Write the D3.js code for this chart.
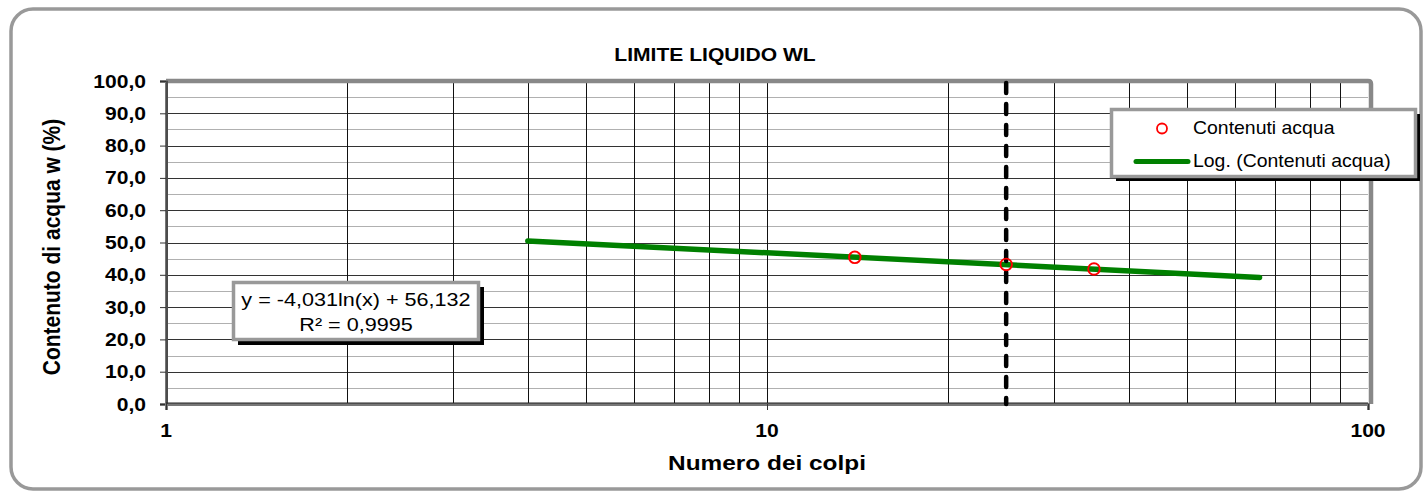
<!DOCTYPE html>
<html><head><meta charset="utf-8">
<script src="https://cdn.jsdelivr.net/npm/d3@7"></script>
<style>
html,body{margin:0;padding:0;background:#fff;}
text{font-family:"Liberation Sans",Arial,sans-serif;}
</style></head>
<body>
<svg id="c" width="1426" height="492"></svg>
<script>
// ---- data ----
const title = "LIMITE LIQUIDO WL";
const xTitle = "Numero dei colpi";
const yTitle = "Contenuto di acqua w (%)";
const colpi = [14, 25, 35];
const contenuti = [45.4, 43.2, 41.8];
const trendX = [4, 66];
const trendY = [50.5, 39.2];
const limitX = [25];
const xTickValues = [1, 10, 100];
const yTickValues = [0, 10, 20, 30, 40, 50, 60, 70, 80, 90, 100];
const eqLines = ["y = -4,031ln(x) + 56,132", "R² = 0,9995"];
const legendLabels = ["Contenuti acqua", "Log. (Contenuti acqua)"];

const svg = d3.select("#c");
const SX = 1.14; // horizontal stretch of text in the reference

function stext(g, x, y, str, opts) {
  const t = g.append("text")
    .attr("transform", `translate(${x},${y}) scale(${opts.k || SX},1)`)
    .attr("text-anchor", opts.anchor || "start")
    .attr("dominant-baseline", "central")
    .attr("font-size", opts.size || 18)
    .attr("font-weight", opts.bold ? "bold" : "normal")
    .attr("fill", "#000")
    .text(str);
  return t;
}

// outer rounded border
svg.append("rect").attr("x", 11).attr("y", 9).attr("width", 1410).attr("height", 480)
  .attr("rx", 22).attr("fill", "#fff").attr("stroke", "#999").attr("stroke-width", 3.5);

const x = d3.scaleLog().domain([1, 100]).range([166, 1368]);
const y = d3.scaleLinear().domain([0, 100]).range([404, 81]);

// grid horizontal minor
const minorY = d3.range(5, 100, 10);
svg.append("g").selectAll("line").data(minorY).join("line")
  .attr("x1", x(1)).attr("x2", x(100))
  .attr("y1", d => Math.round(y(d)) + 0.5).attr("y2", d => Math.round(y(d)) + 0.5)
  .attr("stroke", "#b0b0b0").attr("stroke-width", 1);
// grid horizontal major
svg.append("g").selectAll("line").data(yTickValues.filter(d => d > 0 && d < 100)).join("line")
  .attr("x1", x(1)).attr("x2", x(100))
  .attr("y1", d => Math.round(y(d)) + 0.5).attr("y2", d => Math.round(y(d)) + 0.5)
  .attr("stroke", "#333").attr("stroke-width", 1);
// grid vertical
const vx = x.ticks().filter(d => d > 1 && d < 100);
svg.append("g").selectAll("line").data(vx).join("line")
  .attr("x1", d => Math.round(x(d)) + 0.5).attr("x2", d => Math.round(x(d)) + 0.5)
  .attr("y1", y(100)).attr("y2", y(0))
  .attr("stroke", "#111").attr("stroke-width", 1);

// plot frame (top / right gray)
svg.append("path")
  .attr("d", `M${x(1)},${y(100)} L${x(100)},${y(100)} Q${x(100) + 3},${y(100)} ${x(100) + 3},${y(100) + 3} L${x(100) + 3},${y(0)}`)
  .attr("fill", "none").attr("stroke", "#888").attr("stroke-width", 4.5);

// axes
const gy = svg.append("g").attr("transform", `translate(${x(1)},0)`)
  .call(d3.axisLeft(y).tickValues(yTickValues).tickSize(6).tickFormat(() => ""));
gy.select(".domain").attr("stroke", "#777").attr("stroke-width", 3);
gy.selectAll(".tick line").attr("stroke", "#333");
const gx = svg.append("g").attr("transform", `translate(0,${y(0)})`)
  .call(d3.axisBottom(x).tickValues(xTickValues).tickSize(6).tickFormat(() => ""));
gx.select(".domain").attr("stroke", "#777").attr("stroke-width", 3);
gx.selectAll(".tick line").attr("stroke", "#333");
svg.append("line").attr("x1", x(1) + 1).attr("x2", x(1) + 1).attr("y1", y(100)).attr("y2", y(0))
  .attr("stroke", "#222").attr("stroke-width", 1);
svg.append("line").attr("x1", x(1)).attr("x2", x(100)).attr("y1", y(0) - 1).attr("y2", y(0) - 1)
  .attr("stroke", "#222").attr("stroke-width", 1);

// tick labels
const fmt = d => d.toFixed(1).replace(".", ",");
yTickValues.forEach(v => stext(svg, 146, y(v), fmt(v), {anchor: "end", bold: true, size: 18.5}));
xTickValues.forEach(v => stext(svg, x(v), 430, String(v), {anchor: "middle", bold: true, size: 18.5}));

// titles
stext(svg, 715, 54, title, {anchor: "middle", bold: true, size: 18.5});
stext(svg, x(10), 463, xTitle, {anchor: "middle", bold: true, size: 20, k: 1.22});
svg.append("text")
  .attr("transform", `translate(52,247) rotate(-90) scale(1,1.1)`)
  .attr("text-anchor", "middle").attr("dominant-baseline", "central")
  .attr("font-size", 21).attr("font-weight", "bold").text(yTitle);

// trend line
const line = d3.line().x(d => x(d[0])).y(d => y(d[1]));
svg.append("path").datum(d3.zip(trendX, trendY)).attr("d", line)
  .attr("fill", "none").attr("stroke", "#008000").attr("stroke-width", 5.5).attr("stroke-linecap", "round");

// vertical dashed limit line
svg.append("g").selectAll("line").data(limitX).join("line")
  .attr("x1", d => x(d)).attr("x2", d => x(d))
  .attr("y1", y(100) + 2).attr("y2", y(0))
  .attr("stroke", "#000").attr("stroke-width", 4.5)
  .attr("stroke-dasharray", "10,11").attr("stroke-linecap", "round");

// points
svg.append("g").selectAll("circle").data(d3.zip(colpi, contenuti)).join("circle")
  .attr("cx", d => x(d[0])).attr("cy", d => y(d[1])).attr("r", 5.8)
  .attr("fill", "none").attr("stroke", "#ff0000").attr("stroke-width", 1.9);

// equation box
const eq = svg.append("g");
eq.append("rect").attr("x", 238).attr("y", 287).attr("width", 246).attr("height", 58).attr("fill", "#000");
eq.append("rect").attr("x", 233.5).attr("y", 282.5).attr("width", 245).attr("height", 57)
  .attr("fill", "#fff").attr("stroke", "#999").attr("stroke-width", 3.5);
stext(eq, 356, 300, eqLines[0], {anchor: "middle", size: 18, k: 1.2});
stext(eq, 356, 325, eqLines[1], {anchor: "middle", size: 18, k: 1.2});

// legend
const lg = svg.append("g");
lg.append("rect").attr("x", 1116).attr("y", 114).attr("width", 304).attr("height", 67).attr("fill", "#000");
lg.append("rect").attr("x", 1111.5).attr("y", 109.5).attr("width", 304).attr("height", 67)
  .attr("fill", "#fff").attr("stroke", "#999").attr("stroke-width", 3.5);
lg.append("circle").attr("cx", 1162).attr("cy", 128.5).attr("r", 5)
  .attr("fill", "none").attr("stroke", "#ff0000").attr("stroke-width", 1.8);
lg.append("line").attr("x1", 1136).attr("x2", 1188).attr("y1", 161.5).attr("y2", 161.5)
  .attr("stroke", "#008000").attr("stroke-width", 5).attr("stroke-linecap", "round");
stext(lg, 1193, 128, legendLabels[0], {size: 18, k: 1.08});
stext(lg, 1193, 161, legendLabels[1], {size: 18, k: 1.08});
</script>
</body></html>
